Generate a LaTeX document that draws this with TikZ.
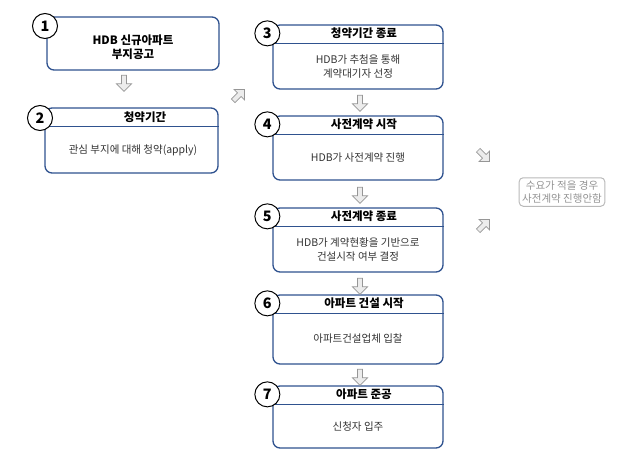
\documentclass[tikz,border=0pt]{standalone}
\usepackage{fontspec}
\setmainfont{Noto Sans CJK KR}
\usetikzlibrary{positioning,calc,shapes.arrows}
\definecolor{boxblue}{RGB}{47,82,143}
\definecolor{arrgray}{RGB}{150,150,150}
\tikzset{
  stage/.style={draw=boxblue, line width=1.3pt, rounded corners=7pt, minimum width=170pt, fill=white},
  num/.style={circle, draw=black, line width=1pt, fill=white, minimum size=25pt, inner sep=0pt, font=\Large\bfseries},
  title/.style={font=\bfseries\fontsize{11.5}{14}\selectfont},
  body/.style={font=\fontsize{10.5}{14}\selectfont, align=center, text=black!80},
  blk/.style={single arrow, draw=arrgray, fill=gray!15, line width=0.7pt, minimum width=15pt, single arrow head extend=3pt, minimum height=16pt, inner sep=1.2pt}
}
\begin{document}
\begin{tikzpicture}[x=1pt, y=-1pt]
  \useasboundingbox (0,0) rectangle (640,455);
  % stage 1
  \node[stage, minimum width=172pt, minimum height=53pt] (b1) at (133,43.5) {};
  \node[title, align=center] (t1) at (133,47) {HDB 신규아파트\\부지공고};
  \node[num] (n1) at (45,26) {1};
  % stage 2
  \node[stage, minimum width=173pt, minimum height=65pt] (b2) at (131.5,140.5) {};
  \draw[boxblue, line width=1.3pt] ($(b2.north west)+(0,19)$) -- ($(b2.north east)+(0,19)$);
  \node[title] (t2) at (145,117) {청약기간};
  \node[body] (d2) at (133,150) {관심 부지에 대해 청약(apply)};
  \node[num] (n2) at (40,118) {2};
  % stages 3-7
  \foreach \i/\y/\h/\ttl/\txt in {
      3/57/64/{청약기간 종료}/{HDB가 추첨을 통해\\계약대기자 선정},
      4/148/64/{사전계약 시작}/{HDB가 사전계약 진행},
      5/240/64/{사전계약 종료}/{HDB가 계약현황을 기반으로\\건설시작 여부 결정},
      6/329.5/69/{아파트 건설 시작}/{아파트건설업체 입찰},
      7/417/62/{아파트 준공}/{신청자 입주}} {
    \node[stage, minimum height=\h pt] (b\i) at (358,\y) {};
    \draw[boxblue, line width=1.3pt] ($(b\i.north west)+(0,19)$) -- ($(b\i.north east)+(0,19)$);
    \node[title] (t\i) at ($(b\i.north)+(6,9)$) {\ttl};
    \node[body] (d\i) at (358,\y+9.5) {\txt};
    \node[num] (n\i) at ($(b\i.north west)+(-5,9)$) {\i};
  }
  % side note
  \node[draw=gray!55, rounded corners=4pt, line width=1pt, text=gray!85, align=center,
        font=\fontsize{10.5}{13}\selectfont, inner sep=3pt] (note) at (562,192) {수요가 적을 경우\\사전계약 진행안함};
  % block arrows
  \node[blk, rotate=-90] (a12) at (124,82) {};
  \node[blk, rotate=45] (a23) at (238,96) {};
  \foreach \i/\y in {34/102,45/194,56/285,67/376}
    \node[blk, rotate=-90] (a\i) at (360,\y) {};
  \node[blk, rotate=-45] (a4n) at (483,155) {};
  \node[blk, rotate=45] (a5n) at (483,226) {};
\end{tikzpicture}
\end{document}
